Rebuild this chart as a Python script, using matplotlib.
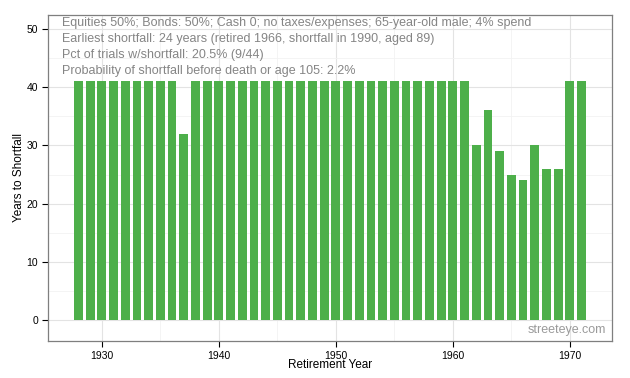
import matplotlib.pyplot as plt
from matplotlib.ticker import MultipleLocator

# data
years = list(range(1928, 1972))
years_to_shortfall = [41] * 9 + [32] + [41] * 24 + [30, 36, 29, 25, 24, 30, 26, 26, 41, 41]

notes = [
    "Equities 50%; Bonds: 50%; Cash 0; no taxes/expenses; 65-year-old male; 4% spend",
    "Earliest shortfall: 24 years (retired 1966, shortfall in 1990, aged 89)",
    "Pct of trials w/shortfall: 20.5% (9/44)",
    "Probability of shortfall before death or age 105: 2.2%",
]

plt.rcParams['font.family'] = ['Arial', 'Liberation Sans', 'DejaVu Sans']

fig = plt.figure(figsize=(6.3, 3.78), dpi=100)
ax = fig.add_axes([48 / 630, 1 - 341 / 378, 564 / 630, 326 / 378])

ax.bar(years, years_to_shortfall, width=0.75, color='#4DAF4A', zorder=3)

ax.set_xlim(1925.4, 1973.6)
ax.set_ylim(-3.6, 52.4)
ax.xaxis.set_major_locator(MultipleLocator(10))
ax.xaxis.set_minor_locator(MultipleLocator(5))
ax.yaxis.set_major_locator(MultipleLocator(10))
ax.yaxis.set_minor_locator(MultipleLocator(5))
ax.grid(which='major', color='#e3e3e3', lw=0.8, zorder=0)
ax.grid(which='minor', color='#f2f2f2', lw=0.6, zorder=0)
ax.tick_params(which='minor', length=0)
ax.tick_params(which='major', length=4, width=0.8, color='black', labelsize=7.5, pad=3)
for s in ax.spines.values():
    s.set_color('#7f7f7f')
    s.set_linewidth(0.9)

ax.set_xlabel('Retirement Year', fontsize=8.5, labelpad=-1)
ax.set_ylabel('Years to Shortfall', fontsize=8.5, labelpad=1)

for i, line in enumerate(notes):
    ax.text(0.025, 0.995 - i * 0.0495, line, transform=ax.transAxes,
            fontsize=9, color='#858585', va='top', ha='left', zorder=4)

ax.text(0.99, 0.015, 'streeteye.com', transform=ax.transAxes, fontsize=9,
        color='#9a9a9a', ha='right', va='bottom', zorder=4)

fig.savefig('out.png', dpi=100)
